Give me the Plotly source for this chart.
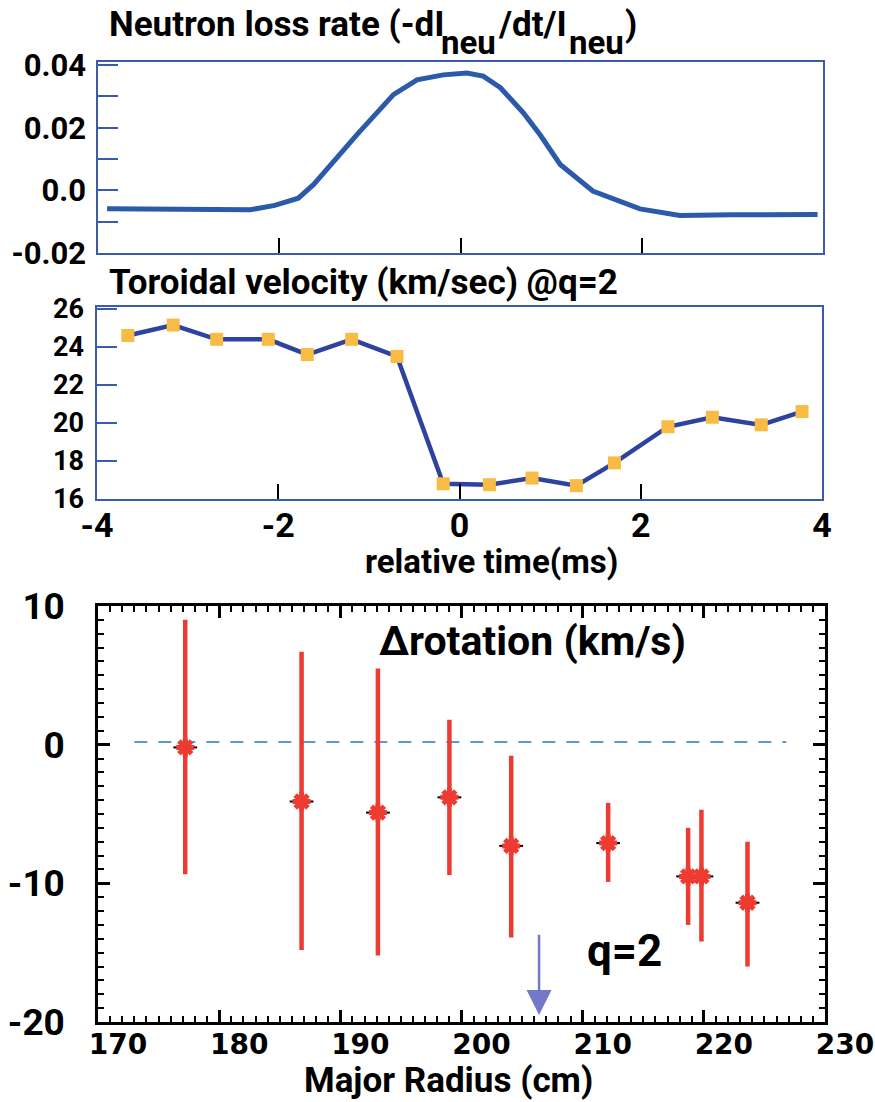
import plotly.graph_objects as go

# ---------------- data ----------------
# Panel 1: neutron loss rate
t_neu = [-3.90, -3.0, -2.51, -2.32, -2.05, -1.79, -1.62, -1.14, -0.74, -0.48, -0.19, 0.07, 0.25,
         0.44, 0.69, 0.88, 1.10, 1.46, 1.98, 2.42, 3.0, 3.94]
neu_rate = [-0.0059, -0.0062, -0.0065, -0.0062, -0.0048, -0.0025, 0.0019, 0.0179, 0.0306, 0.0353,
            0.0369, 0.0375, 0.0365, 0.0328, 0.0249, 0.0177, 0.0083, -0.0002, -0.0059, -0.0080,
            -0.0078, -0.0077]
neu_ticks = [-0.02, 0.0, 0.02, 0.04]
neu_ticktext = ["-0.02", "0.0", "0.02", "0.04"]

# Panel 2: toroidal velocity at q=2
t_vel = [-3.66, -3.16, -2.68, -2.11, -1.68, -1.19, -0.69, -0.18, 0.33, 0.80, 1.29, 1.71,
         2.30, 2.79, 3.33, 3.78]
vel = [24.6, 25.15, 24.4, 24.4, 23.6, 24.4, 23.5, 16.8, 16.75, 17.1, 16.7, 17.9,
       19.8, 20.3, 19.9, 20.6]
time_ticks = [-4, -2, 0, 2, 4]
time_ticktext = ["-4", "-2", "0", "2", "4"]
vel_ticks = [16, 18, 20, 22, 24, 26]

# Panel 3: delta rotation vs major radius
radius = [177.2, 186.8, 193.1, 199.0, 204.1, 212.1, 218.7, 219.8, 223.6]
d_rot = [-0.2, -4.1, -4.9, -3.8, -7.3, -7.1, -9.5, -9.5, -11.4]
err_hi = [9.0, 6.7, 5.5, 1.8, -0.8, -4.2, -6.0, -4.7, -7.0]
err_lo = [-9.35, -14.8, -15.2, -9.4, -13.9, -9.9, -13.0, -14.2, -16.0]
ref_x = [173.0, 226.8]
ref_y = [0.2, 0.2]
q2_radius = 206.4
q2_arrow_y = [-13.6, -19.5]
rad_ticks = [170, 180, 190, 200, 210, 220, 230]
rot_ticks = [-20, -10, 0, 10]
rot_ticktext = ["-20", "-10", "0", "10"]

plus = [h - c for h, c in zip(err_hi, d_rot)]
minus = [c - l for c, l in zip(d_rot, err_lo)]

COND = "Roboto, Liberation Sans, sans-serif"
WIDE = "DejaVu Sans, Liberation Sans, sans-serif"
BLUE_AX = "#3B5CAB"
RED = "#EE3B32"

fig = go.Figure()

fig.add_trace(go.Scatter(x=t_neu, y=neu_rate, mode="lines", line=dict(color="#2C5AAA", width=5),
                         xaxis="x", yaxis="y", showlegend=False))
fig.add_trace(go.Scatter(x=t_vel, y=vel, mode="lines+markers", line=dict(color="#2E43A0", width=4.5),
                         marker=dict(symbol="square", size=13, color="#F8BC45"),
                         xaxis="x2", yaxis="y2", showlegend=False))
fig.add_trace(go.Scatter(x=ref_x, y=ref_y, mode="lines",
                         line=dict(color="#5C97D6", width=2, dash="13px,11px"),
                         xaxis="x3", yaxis="y3", showlegend=False))
fig.add_trace(go.Scatter(x=radius, y=d_rot, mode="markers",
                         error_y=dict(type="data", symmetric=False, array=plus, arrayminus=minus,
                                      color=RED, thickness=4.5, width=0),
                         marker=dict(symbol="line-ew-open", size=17, color="black", line=dict(width=2)),
                         xaxis="x3", yaxis="y3", showlegend=False))
fig.add_trace(go.Scatter(x=radius, y=d_rot, mode="markers",
                         marker=dict(symbol="asterisk-open", size=15, color=RED, line=dict(color=RED, width=5)),
                         xaxis="x3", yaxis="y3", showlegend=False))

top_common = dict(showline=True, mirror=True, linecolor=BLUE_AX, linewidth=1.5, zeroline=False,
                  showgrid=False, automargin=False)

fig.update_layout(
    width=875, height=1102, margin=dict(l=0, r=0, t=0, b=0),
    paper_bgcolor="white", plot_bgcolor="white",
    xaxis=dict(domain=[0.112, 0.9406], anchor="y", range=[-4, 4], tickvals=time_ticks,
               ticks="inside", ticklen=15, tickwidth=2, tickcolor="black", showticklabels=False,
               **top_common),
    yaxis=dict(domain=[0.7704, 0.9437], anchor="x", range=[-0.02, 0.041],
               tickvals=neu_ticks, ticktext=neu_ticktext,
               ticks="inside", ticklen=20, tickwidth=1.5, tickcolor=BLUE_AX,
               minor=dict(dtick=0.01, ticks="inside", ticklen=20, tickwidth=1.5, tickcolor=BLUE_AX),
               tickfont=dict(family=COND, size=31, color="black", weight="bold"), ticklabelstandoff=4,
               **top_common),
    xaxis2=dict(domain=[0.1109, 0.9394], anchor="y2", range=[-4, 4], tickvals=time_ticks,
                ticktext=time_ticktext,
                ticks="inside", ticklen=15, tickwidth=2, tickcolor="black",
                tickfont=dict(family=COND, size=34, color="black", weight="bold"), ticklabelstandoff=-5,
                **top_common),
    yaxis2=dict(domain=[0.5472, 0.7214], anchor="x2", range=[16, 26.1], tickvals=vel_ticks,
                ticks="inside", ticklen=20, tickwidth=1.5, tickcolor=BLUE_AX,
                tickfont=dict(family=COND, size=27, color="black", weight="bold"), ticklabelstandoff=6,
                **top_common),
    xaxis3=dict(domain=[0.112, 0.9429], anchor="y3", range=[170, 230], tickvals=rad_ticks,
                showline=True, mirror="ticks", linecolor="black", linewidth=2.5, zeroline=False, showgrid=False,
                automargin=False,
                ticks="inside", ticklen=12, tickwidth=2.5, tickcolor="black",
                minor=dict(dtick=1, ticks="inside", ticklen=6, tickwidth=2, tickcolor="black"),
                tickfont=dict(family=WIDE, size=28, color="black", weight="bold"), ticklabelshift=20,
                ticklabelstandoff=-4),
    yaxis3=dict(domain=[0.0726, 0.4501], anchor="x3", range=[-20, 10], tickvals=rot_ticks,
                ticktext=rot_ticktext,
                showline=True, mirror="ticks", linecolor="black", linewidth=2.5, zeroline=False, showgrid=False,
                automargin=False,
                ticks="inside", ticklen=12, tickwidth=2.5, tickcolor="black",
                minor=dict(dtick=1, ticks="inside", ticklen=6, tickwidth=2, tickcolor="black"),
                tickfont=dict(family=COND, size=37, color="black", weight="bold"), ticklabelstandoff=23),
)

ann_font = dict(family=COND, color="black", weight="bold")


def label(text, x, y, size, xanchor="left", yanchor="top"):
    fig.add_annotation(text=text, xref="paper", yref="paper", x=x / 875, y=1 - y / 1102,
                       xanchor=xanchor, yanchor=yanchor, showarrow=False, borderpad=0,
                       font=dict(size=size, **ann_font))


# Title of panel 1 (large subscripts built from pieces)
label("Neutron loss rate (-dI", 108, 3, 35)
label("neu", 440, 22, 33)
label("/dt/I", 497, 3, 35)
label("neu", 568, 22, 33)
label(")", 624, 3, 35)

label("Toroidal velocity (km/sec) @q=2", 108, 261, 35)
label("relative time(ms)", 491, 561, 33, xanchor="center", yanchor="middle")
label("\u0394rotation (km/s)", 532, 641, 41, xanchor="center", yanchor="middle")
label("q=2", 624, 951, 44, xanchor="center", yanchor="middle")
label("Major Radius (cm)", 448, 1080, 35, xanchor="center", yanchor="middle")

fig.add_annotation(x=q2_radius, y=q2_arrow_y[1], ax=q2_radius, ay=q2_arrow_y[0], xref="x3", yref="y3",
                   axref="x3", ayref="y3", showarrow=True, arrowhead=2, arrowsize=2.0, arrowwidth=2.5,
                   arrowcolor="#7478C8", text="")

fig.write_html("out.html")
